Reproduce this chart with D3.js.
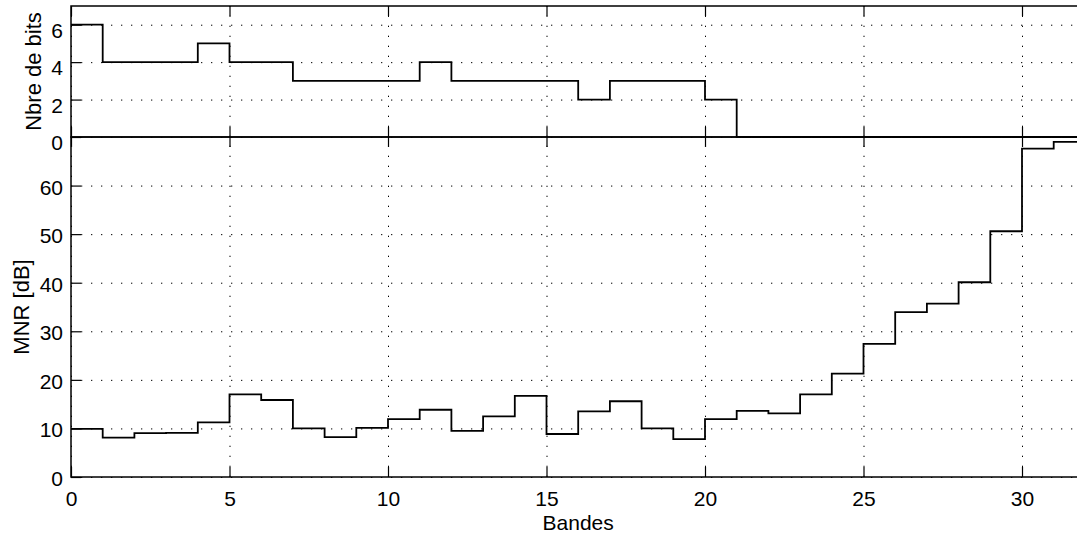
<!DOCTYPE html>
<html><head><meta charset="utf-8">
<script src="https://cdn.jsdelivr.net/npm/d3@7"></script>
<style>
html,body{margin:0;padding:0;background:#fff;overflow:hidden}
svg{display:block;font-family:"Liberation Sans",Arial,Helvetica,sans-serif}
</style></head><body>
<svg id="c" width="1077" height="535"></svg>
<script>
const bands = d3.range(0, 32);
const bits = [6,4,4,4,5,4,4,3,3,3,3,4,3,3,3,3,2,3,3,3,2,0,0,0,0,0,0,0,0,0,0,0];
const mnr = [9.9,8.1,9.05,9.1,11.25,17.0,15.85,10.0,8.2,10.1,11.9,13.85,9.5,12.5,16.7,8.85,13.5,15.6,10.0,7.8,11.9,13.6,13.1,17.0,21.3,27.4,33.95,35.7,40.1,50.6,67.6,69.0];
const xTicks = [0,5,10,15,20,25,30];
const bitsTicks = [0,2,4,6];
const mnrTicks = [0,10,20,30,40,50,60];

const svg = d3.select("#c");
const L = 71, R = 1085.4;
const x = d3.scaleLinear().domain([0,32]).range([L,R]);
const yTop = d3.scaleLinear().domain([0,7]).range([137,6]);
const yBot = d3.scaleLinear().domain([0,70]).range([477,137]);
const FS = "21px";

function panel(y, ticks, vals, label, showX, labelX, labelDy) {
  const [y0, y1] = y.range(); // bottom, top
  const g = svg.append("g");
  // grid
  const gx = g.append("g").attr("transform", `translate(0,${y0})`)
    .call(d3.axisBottom(x).tickValues(xTicks).tickSize(-(y0-y1)).tickFormat(""));
  gx.select(".domain").remove();
  gx.selectAll("line").attr("stroke","#000").attr("stroke-width",1).attr("stroke-dasharray","1.3,8.7");
  const gy = g.append("g").attr("transform", `translate(${L},0)`)
    .call(d3.axisLeft(y).tickValues(ticks).tickSize(-(R-L)).tickFormat(""));
  gy.select(".domain").remove();
  gy.selectAll("line").attr("stroke","#000").attr("stroke-width",1).attr("stroke-dasharray","1.3,8.7");
  // data
  const pts = bands.map((b,i)=>[b, vals[i]]);
  pts.push([32, vals[vals.length-1]]);
  g.append("path").datum(pts)
    .attr("d", d3.line().x(d=>x(d[0])).y(d=>y(d[1])).curve(d3.curveStepAfter))
    .attr("fill","none").attr("stroke","#000").attr("stroke-width",1.8);
  // frame
  g.append("rect").attr("x",L).attr("y",y1).attr("width",R-L).attr("height",y0-y1)
    .attr("fill","none").attr("stroke","#000").attr("stroke-width",1.5);
  // axes
  const ax = g.append("g").attr("transform", `translate(0,${y0})`)
    .call(d3.axisBottom(x).tickValues(xTicks).tickSize(-10).tickPadding(showX?14:0).tickFormat(showX?d3.format("d"):""));
  const axT = g.append("g").attr("transform", `translate(0,${y1})`)
    .call(d3.axisTop(x).tickValues(xTicks).tickSize(-10).tickFormat(""));
  const ayL = g.append("g").attr("transform", `translate(${L},0)`)
    .call(d3.axisLeft(y).tickValues(ticks).tickSize(-10).tickPadding(8).tickFormat(d3.format("d")));
  ayL.selectAll("text").attr("dy", null).attr("y", labelDy).attr("dominant-baseline","central");
  [ax,axT,ayL].forEach(a=>{
    a.select(".domain").remove();
    a.selectAll("line").attr("stroke","#000").attr("stroke-width",1.2);
    a.selectAll("text").attr("fill","#000").style("font-size",FS).style("font-family",'"Liberation Sans",Arial,sans-serif');
  });
  // y label
  svg.append("text").attr("transform", `translate(${labelX},${(y0+y1)/2}) rotate(-90)`)
    .attr("text-anchor","middle").style("font-size","22px").attr("fill","#000").text(label);
}

panel(yBot, mnrTicks, mnr, "MNR [dB]", true, 28.5, 1);
panel(yTop, bitsTicks, bits, "Nbre de bits", false, 41, 5);

svg.append("text").attr("x",(L+R)/2).attr("y",530).attr("text-anchor","middle")
  .style("font-size",FS).attr("fill","#000").text("Bandes");
</script></body></html>
